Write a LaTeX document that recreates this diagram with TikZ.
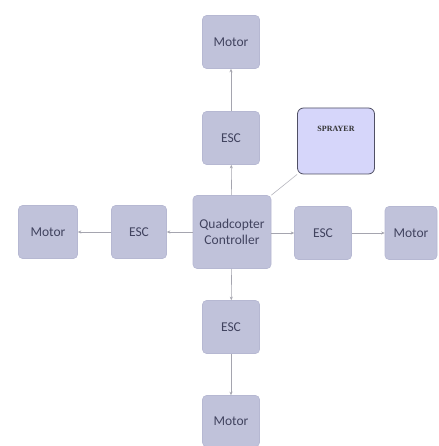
\documentclass[tikz,border=0pt]{standalone}
\usepackage{fontspec}
\setmainfont{Carlito}
\newfontfamily\serifbold{Liberation Serif}
\usetikzlibrary{arrows.meta}
\definecolor{boxfill}{RGB}{192,194,218}
\definecolor{boxline}{RGB}{182,184,210}
\definecolor{sprfill}{RGB}{214,214,250}
\definecolor{sprline}{RGB}{80,80,100}
\definecolor{txt}{RGB}{65,67,95}
\definecolor{conn}{RGB}{165,165,175}
\begin{document}
\begin{tikzpicture}[x=1pt,y=-1pt,
  blk/.style={draw=boxline,fill=boxfill,rounded corners=4pt,line width=0.6pt,
    minimum width=57pt,minimum height=53pt,inner sep=1pt,text=txt,font=\fontsize{13.5}{16}\selectfont,align=center},
  sprbox/.style={draw=sprline,fill=sprfill,rounded corners=6pt,line width=0.8pt,
    minimum width=77pt,minimum height=66pt},
  conarrow/.style={draw=conn,line width=0.6pt,-{Stealth[length=3.5pt,width=3pt]}},
  conline/.style={draw=conn!80,line width=0.6pt}]
\useasboundingbox (0,0) rectangle (438,446);
\fill[white] (0,0) rectangle (438,446);
\node[blk] (mtop) at (231,42) {Motor};
\node[blk] (etop) at (231,138) {ESC};
\node[blk,minimum width=78pt,minimum height=73pt] (ctrl) at (232,232) {Quadcopter\\Controller};
\node[blk,minimum width=59pt] (mleft) at (48,232) {Motor};
\node[blk,minimum width=55pt] (eleft) at (139,232) {ESC};
\node[blk] (eright) at (323,233) {ESC};
\node[blk,minimum width=52pt] (mright) at (411,233) {Motor};
\node[blk] (ebot) at (231,327) {ESC};
\node[blk,minimum height=51pt] (mbot) at (231,421) {Motor};
\node[sprbox] (spr) at (336,141) {};
\node[font=\serifbold\bfseries\fontsize{8}{9}\selectfont,text=black!80] (sprtxt) at (336,129) {SPRAYER};
\draw[conarrow] (etop) -- (mtop);
\draw[conarrow] (ctrl) -- (etop);
\draw[conarrow] (ctrl) -- (eleft);
\draw[conarrow] (eleft) -- (mleft);
\draw[conarrow] (ctrl.east |- eright) -- (eright);
\draw[conarrow] (eright) -- (mright);
\draw[conarrow] (ctrl) -- (ebot);
\draw[conarrow] (ebot) -- (mbot);
\draw[conline] (ctrl.north east) -- (spr.south west);
\end{tikzpicture}
\end{document}
